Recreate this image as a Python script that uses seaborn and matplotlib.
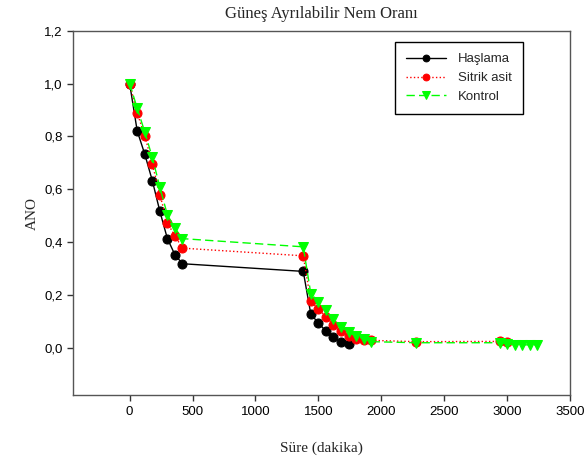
import matplotlib
matplotlib.use("Agg")
import matplotlib.pyplot as plt
import seaborn as sns
import numpy as np
from matplotlib.ticker import FuncFormatter

sns.set_style("ticks")
plt.rcParams['font.family'] = ['Liberation Sans', 'DejaVu Sans']

# Data (time in minutes, moisture ratio)
t_haslama = [0, 60, 120, 180, 240, 300, 360, 420, 1380, 1440, 1500, 1560, 1620, 1680, 1740]
y_haslama = [1.0, 0.821, 0.733, 0.633, 0.517, 0.413, 0.352, 0.318, 0.289, 0.127, 0.094, 0.063, 0.039, 0.020, 0.013]

t_sitrik = [0, 60, 120, 180, 240, 300, 360, 420, 1380, 1440, 1500, 1560, 1620, 1680, 1740,
            1800, 1860, 1920, 2280, 2940, 3000]
y_sitrik = [1.0, 0.888, 0.803, 0.696, 0.58, 0.473, 0.423, 0.377, 0.348, 0.176, 0.147, 0.118, 0.088,
            0.062, 0.043, 0.032, 0.030, 0.028, 0.023, 0.024, 0.021]

t_kontrol = [0, 60, 120, 180, 240, 300, 360, 420, 1380, 1440, 1500, 1560, 1620, 1680, 1740,
             1800, 1860, 1920, 2280, 2940, 3000, 3060, 3120, 3180, 3240]
y_kontrol = [1.0, 0.907, 0.817, 0.721, 0.608, 0.503, 0.453, 0.413, 0.382, 0.205, 0.174, 0.141, 0.107,
             0.079, 0.058, 0.044, 0.034, 0.023, 0.019, 0.019, 0.015, 0.011, 0.011, 0.011, 0.011]

x_ticks = [0, 500, 1000, 1500, 2000, 2500, 3000, 3500]
y_ticks = [0.0, 0.2, 0.4, 0.6, 0.8, 1.0, 1.2]

fig = plt.figure(figsize=(5.87, 4.63), dpi=100)
ax = fig.add_axes([0.1244, 0.1462, 0.8466, 0.7875])

sns.lineplot(x=t_haslama, y=y_haslama, ax=ax, color='black', linestyle='-', linewidth=1,
             marker='o', markersize=6.5, markeredgecolor='black', label='Haşlama', estimator=None)
sns.lineplot(x=t_sitrik, y=y_sitrik, ax=ax, color='red', linestyle=':', linewidth=1,
             marker='o', markersize=6.5, markeredgecolor='red', label='Sitrik asit', estimator=None)
sns.lineplot(x=t_kontrol, y=y_kontrol, ax=ax, color='#00ff00', linestyle=(0, (6, 3)), linewidth=1,
             marker='v', markersize=7.5, markeredgecolor='#00ff00', label='Kontrol', estimator=None)

ax.set_xlim(-450, 3500)
ax.set_ylim(-0.18, 1.2)
ax.set_xticks(x_ticks)
ax.set_yticks(y_ticks)
ax.yaxis.set_major_formatter(FuncFormatter(lambda v, p: f"{v:.1f}".replace('.', ',')))
ax.tick_params(axis='both', labelsize=9.5, direction='out', length=4, width=1, colors='#333333',
               labelcolor='black')
for s in ax.spines.values():
    s.set_color('#555555')
    s.set_linewidth(1)

ax.set_title('Güneş Ayrılabilir Nem Oranı', fontfamily='Liberation Serif', fontsize=12, pad=9)
ax.set_xlabel('Süre (dakika)', fontfamily='Liberation Serif', fontsize=11, labelpad=17)
ax.set_ylabel('ANO', fontfamily='Liberation Serif', fontsize=11, labelpad=4)

leg = ax.legend(loc='upper right', bbox_to_anchor=(0.905, 0.969), borderaxespad=0,
                fontsize=9.5, frameon=True,
                fancybox=False, edgecolor='black', framealpha=1, handlelength=3.0,
                borderpad=0.85, labelspacing=0.5, markerscale=0.75, handletextpad=0.9)
leg.get_frame().set_linewidth(1)

fig.savefig('out.png', dpi=100)
